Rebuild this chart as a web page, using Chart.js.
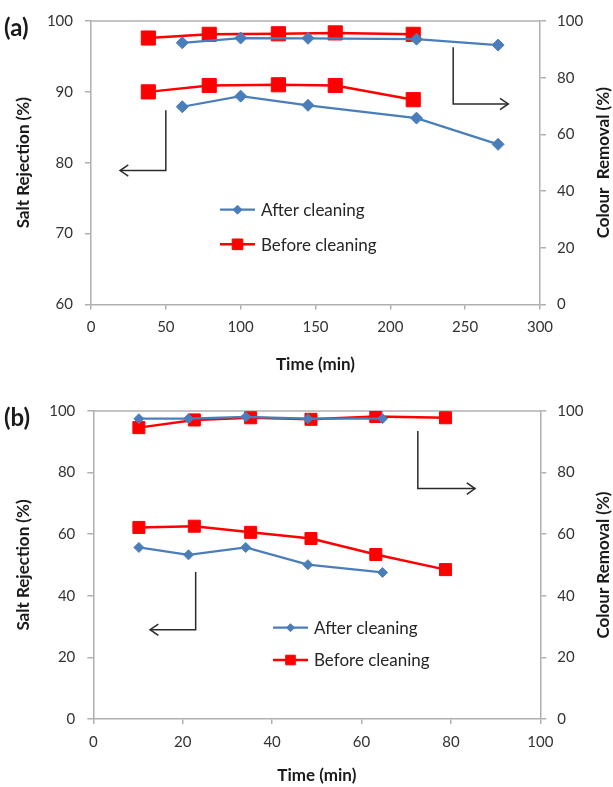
<!DOCTYPE html>
<html>
<head>
<meta charset="utf-8">
<script src="https://cdn.jsdelivr.net/npm/chart.js@4.4.1/dist/chart.umd.min.js"></script>
<style>
  html, body { margin: 0; padding: 0; background: #fff; }
  #page { position: relative; width: 613px; height: 787px; }
  .panel { position: absolute; left: 0; width: 613px; }
  #panelA { top: 0; height: 390px; }
  #panelB { top: 390px; height: 397px; }
</style>
</head>
<body>
<div id="page">
  <div class="panel" id="panelA"><canvas id="chartA" width="613" height="390"></canvas></div>
  <div class="panel" id="panelB"><canvas id="chartB" width="613" height="397"></canvas></div>
</div>
<script>
// ---- panel (a) ----
const timeA_after = [61, 100, 145, 217.5, 272];
const saltA_after = [87.9, 89.4, 88.1, 86.3, 82.6];
const colourA_after = [92.3, 94.0, 93.9, 93.6, 91.5];
const timeA_before = [38.3, 79, 125.2, 163.2, 215.3];
const saltA_before = [90.0, 90.9, 91.0, 90.9, 88.9];
const colourA_before = [94.0, 95.3, 95.5, 95.8, 95.3];

// ---- panel (b) ----
const timeB_after = [10.2, 21.3, 34.1, 48.0, 64.7];
const saltB_after = [55.7, 53.3, 55.7, 50.1, 47.6];
const colourB_after = [97.5, 97.5, 98.1, 97.5, 97.5];
const timeB_before = [10.2, 22.6, 35.2, 48.7, 63.2, 78.8];
const saltB_before = [62.2, 62.6, 60.6, 58.6, 53.4, 48.5];
const colourB_before = [94.6, 97.1, 97.8, 97.3, 98.2, 97.8];

const seriesLabels = ['After cleaning', 'Before cleaning'];
const xTitle = 'Time (min)';
const leftTitle = 'Salt Rejection (%)';

const BLUE = '#4a7ebb';
const RED = '#ff0000';
const AXIS_GREY = '#b0b0b0';
const TICK_TEXT = '#333333';
const TITLE_TEXT = '#1a1a1a';
const FONT = 'Lato, "Open Sans", sans-serif';

function series(label, xs, ys, axisId, style) {
    return Object.assign({
        label: label,
        yAxisID: axisId,
        data: xs.map((x, i) => ({ x: x, y: ys[i] }))
    }, style);
}

function afterStyle(r) {
    return {
        borderColor: BLUE, backgroundColor: BLUE, borderWidth: 2.25,
        pointStyle: 'rectRot', pointRadius: r, pointBorderWidth: 1,
        pointBorderColor: BLUE, pointBackgroundColor: BLUE, tension: 0
    };
}
function beforeStyle(r) {
    return {
        borderColor: RED, backgroundColor: RED, borderWidth: 2.5,
        pointStyle: 'rect', pointRadius: r, pointBorderWidth: 1,
        pointBorderColor: RED, pointBackgroundColor: RED, tension: 0
    };
}

/**
 * Draws the plot frame top line, the L-shaped axis arrows,
 * the in-plot legend, the right axis title and the panel tag.
 */
const panelDecor = {
    id: 'panelDecor',
    beforeDatasetsDraw(chart) {
        const { ctx, chartArea: a } = chart;
        ctx.save();
        ctx.strokeStyle = AXIS_GREY;
        ctx.lineWidth = 1.5;
        ctx.beginPath();
        ctx.moveTo(a.left, a.top);
        ctx.lineTo(a.right, a.top);
        ctx.stroke();
        ctx.restore();
    },
    afterDatasetsDraw(chart, args, opts) {
        const { ctx, chartArea: a, scales } = chart;
        ctx.save();

        // arrows
        ctx.strokeStyle = '#2b2b2b';
        ctx.lineWidth = 1.5;
        (opts.arrows || []).forEach(ar => {
            const ys = scales[ar.axis];
            const pts = ar.points.map(p => [scales.x.getPixelForValue(p[0]), ys.getPixelForValue(p[1])]);
            ctx.beginPath();
            pts.forEach((p, i) => i ? ctx.lineTo(p[0], p[1]) : ctx.moveTo(p[0], p[1]));
            ctx.stroke();
            const tip = pts[pts.length - 1], prev = pts[pts.length - 2];
            const ang = Math.atan2(tip[1] - prev[1], tip[0] - prev[0]);
            const len = 10, spread = 0.6;
            ctx.beginPath();
            ctx.moveTo(tip[0] - len * Math.cos(ang - spread), tip[1] - len * Math.sin(ang - spread));
            ctx.lineTo(tip[0], tip[1]);
            ctx.lineTo(tip[0] - len * Math.cos(ang + spread), tip[1] - len * Math.sin(ang + spread));
            ctx.stroke();
        });

        // legend
        const lg = opts.legend;
        if (lg) {
            lg.items.forEach((idx, row) => {
                const ds = chart.data.datasets[idx];
                const x0 = a.left + lg.x;
                const y = a.top + lg.y + row * lg.gap;
                ctx.strokeStyle = ds.borderColor;
                ctx.fillStyle = ds.pointBackgroundColor;
                ctx.lineWidth = ds.borderWidth;
                ctx.beginPath();
                ctx.moveTo(x0, y);
                ctx.lineTo(x0 + lg.lineLen, y);
                ctx.stroke();
                ctx.lineWidth = 1;
                Chart.helpers.drawPoint(ctx, {
                    pointStyle: ds.pointStyle, rotation: 0,
                    radius: ds.pointRadius * lg.markerScale, borderWidth: 1
                }, x0 + lg.lineLen / 2, y);
                ctx.fillStyle = '#262626';
                ctx.font = lg.font;
                ctx.textAlign = 'left';
                ctx.textBaseline = 'middle';
                ctx.fillText(seriesLabels[row], x0 + lg.lineLen + 6, y + 1);
            });
        }
        ctx.restore();
    },
    afterDraw(chart, args, opts) {
        const { ctx, chartArea: a } = chart;
        ctx.save();
        ctx.fillStyle = TITLE_TEXT;
        ctx.font = 'bold 24px ' + FONT;
        ctx.textAlign = 'left';
        ctx.textBaseline = 'middle';
        ctx.fillText(opts.tag, 4, opts.tagY);

        // right axis title, reading bottom to top like the left one
        ctx.translate(opts.rightTitleX, (a.top + a.bottom) / 2);
        ctx.rotate(-Math.PI / 2);
        ctx.font = 'bold 17px ' + FONT;
        ctx.textAlign = 'center';
        ctx.fillText(opts.rightTitle, 0, 0);
        ctx.restore();
    }
};

function axisCommon(extra) {
    return Object.assign({
        grid: { display: true, drawOnChartArea: false, drawTicks: true, tickLength: 6, color: AXIS_GREY, lineWidth: 1.5 },
        border: { display: true, color: AXIS_GREY, width: 1.5 },
        ticks: { color: TICK_TEXT, font: { family: FONT, size: 15 } }
    }, extra);
}

function buildChart(canvasId, cfg) {
    return new Chart(document.getElementById(canvasId), {
        type: 'line',
        data: { datasets: cfg.datasets },
        plugins: [panelDecor],
        options: {
            responsive: false,
            animation: false,
            layout: { padding: { top: 20, left: 0, right: 0, bottom: 0 } },
            scales: {
                x: axisCommon({
                    type: 'linear', min: 0, max: cfg.xMax,
                    ticks: { stepSize: cfg.xStep, padding: 9, color: TICK_TEXT, font: { family: FONT, size: 15 } },
                    grid: { display: true, drawOnChartArea: false, drawTicks: true, tickLength: 5, color: AXIS_GREY, lineWidth: 1.5 },
                    title: { display: true, text: xTitle, color: TITLE_TEXT, font: { family: FONT, size: 17, weight: 'bold', lineHeight: 1 }, padding: { top: 0, bottom: cfg.xTitlePad } },
                    afterFit: s => { s.height = cfg.xHeight; }
                }),
                yL: axisCommon({
                    position: 'left', min: cfg.yLMin, max: 100,
                    ticks: { stepSize: cfg.yLStep, padding: 12, color: TICK_TEXT, font: { family: FONT, size: 15 } },
                    title: { display: true, text: leftTitle, color: TITLE_TEXT, font: { family: FONT, size: 17, weight: 'bold', lineHeight: 1 }, padding: { top: 15, bottom: 0 } },
                    afterFit: s => { s.width = cfg.leftWidth; }
                }),
                yR: axisCommon({
                    position: 'right', min: 0, max: 100,
                    ticks: { stepSize: 20, padding: 11, color: TICK_TEXT, font: { family: FONT, size: 15 } },
                    afterFit: s => { s.width = cfg.rightWidth; }
                })
            },
            plugins: {
                legend: { display: false },
                tooltip: { enabled: false },
                panelDecor: {
                    tag: cfg.tag, tagY: 28, arrows: cfg.arrows, legend: cfg.legend,
                    rightTitle: cfg.rightTitle, rightTitleX: 604
                }
            }
        }
    });
}

buildChart('chartA', {
    datasets: [
        series(seriesLabels[0], timeA_after, saltA_after, 'yL', afterStyle(6)),
        series(seriesLabels[1], timeA_before, saltA_before, 'yL', beforeStyle(10)),
        series(seriesLabels[0], timeA_after, colourA_after, 'yR', afterStyle(6)),
        series(seriesLabels[1], timeA_before, colourA_before, 'yR', beforeStyle(10))
    ],
    xMax: 300, xStep: 50, yLMin: 60, yLStep: 10,
    xHeight: 85.5, xTitlePad: 17, leftWidth: 91, rightWidth: 73,
    rightTitle: 'Colour  Removal (%)',
    tag: '(a)',
    arrows: [
        { axis: 'yL', points: [[50, 87.4], [50, 78.9], [19.4, 78.9]] },
        { axis: 'yL', points: [[242, 96.3], [242, 88.3], [278.8, 88.3]] }
    ],
    legend: { x: 129, y: 188.7, gap: 34.6, lineLen: 35, markerScale: 0.75, font: '17px ' + FONT, items: [0, 1] }
});

buildChart('chartB', {
    datasets: [
        series(seriesLabels[0], timeB_after, colourB_after, 'yR', afterStyle(5)),
        series(seriesLabels[1], timeB_before, colourB_before, 'yR', beforeStyle(8.5)),
        series(seriesLabels[0], timeB_after, saltB_after, 'yL', afterStyle(5)),
        series(seriesLabels[1], timeB_before, saltB_before, 'yL', beforeStyle(8.5))
    ],
    xMax: 100, xStep: 20, yLMin: 0, yLStep: 20,
    xHeight: 68, xTitlePad: 3, leftWidth: 93.3, rightWidth: 72.7,
    rightTitle: 'Colour Removal (%)',
    tag: '(b)',
    arrows: [
        { axis: 'yL', points: [[22.9, 47.7], [22.9, 29.0], [12.7, 29.0]] },
        { axis: 'yL', points: [[72.6, 93.5], [72.6, 74.8], [85.4, 74.8]] }
    ],
    legend: { x: 179.7, y: 216.7, gap: 32.3, lineLen: 35, markerScale: 0.8, font: '17px ' + FONT, items: [0, 1] }
});
</script>
</body>
</html>
